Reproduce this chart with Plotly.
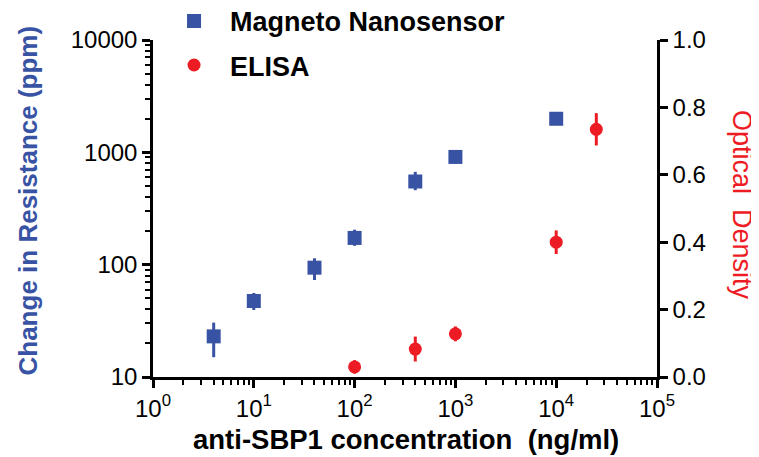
import plotly.graph_objects as go

# Magneto Nanosensor (left, log axis)
mag_x = [4, 10, 40, 100, 400, 1000, 10000]
mag_y = [23, 47.5, 94, 173, 550, 910, 1990]
mag_err_plus = [7.5, 8.5, 20, 32, 120, 0, 0]
mag_err_minus = [8, 8, 21, 26, 90, 0, 0]

# ELISA (right, linear axis)
eli_x = [100, 400, 1000, 10000, 25000]
eli_y = [0.03, 0.083, 0.128, 0.40, 0.735]
eli_err = [0.02, 0.037, 0.022, 0.035, 0.048]

x_tickvals = [1, 10, 100, 1000, 10000, 100000]
x_ticktext = ["10<sup>0</sup>", "10<sup>1</sup>", "10<sup>2</sup>", "10<sup>3</sup>", "10<sup>4</sup>", "10<sup>5</sup>"]
y_tickvals = [10, 100, 1000, 10000]
y_ticktext = ["10", "100", "1000", "10000"]
y2_tickvals = [0, 0.2, 0.4, 0.6, 0.8, 1.0]
y2_ticktext = ["0.0", "0.2", "0.4", "0.6", "0.8", "1.0"]

BLUE = "#3953a4"
RED = "#ed1c24"
FONT = "Liberation Sans, Arial, sans-serif"

fig = go.Figure()
fig.add_trace(go.Scatter(
    x=mag_x, y=mag_y, mode="markers", name="Magneto Nanosensor",
    legendgroup="a",
    marker=dict(symbol="square", size=14, color=BLUE),
    error_y=dict(type="data", array=mag_err_plus, arrayminus=mag_err_minus,
                 color=BLUE, thickness=3, width=0),
    yaxis="y",
))
fig.add_trace(go.Scatter(
    x=eli_x, y=eli_y, mode="markers", name="ELISA",
    legendgroup="b",
    marker=dict(symbol="circle", size=13, color=RED),
    error_y=dict(type="data", array=eli_err, color=RED, thickness=3, width=0),
    yaxis="y2",
))

axis_common = dict(showgrid=False, zeroline=False, showline=True, linecolor="black",
                   linewidth=2.5, ticks="outside", tickwidth=2.5, tickcolor="black",
                   ticklen=8, tickfont=dict(family=FONT, size=24, color="black"))

# page body has an 8px default margin, so the figure is 8px smaller and margins compensate
fig.update_layout(
    width=751, height=449,
    margin=dict(l=145, r=102, t=32, b=80, autoexpand=False),
    plot_bgcolor="white", paper_bgcolor="white",
    showlegend=True,
    legend=dict(x=0.01, y=1.128, xanchor="left", yanchor="top",
                font=dict(family=FONT, size=27, color="black", weight="bold"),
                itemwidth=62,
                tracegroupgap=6, bgcolor="rgba(0,0,0,0)"),
    xaxis=dict(type="log", range=[0, 5], tickvals=x_tickvals, ticktext=x_ticktext,
               minor=dict(ticks="outside", ticklen=5, tickwidth=2, tickcolor="black",
                          tickvals=[m * 10 ** d for d in range(5) for m in range(2, 10)]),
               **axis_common),
    yaxis=dict(type="log", range=[1, 4], tickvals=y_tickvals, ticktext=y_ticktext,
               minor=dict(ticks="outside", ticklen=5, tickwidth=2, tickcolor="black",
                          tickvals=[m * 10 ** d for d in range(1, 4) for m in range(2, 10)]),
               **axis_common),
    yaxis2=dict(overlaying="y", side="right", range=[0, 1], tickvals=y2_tickvals,
                ticktext=y2_ticktext, **axis_common),
)

fig.add_annotation(text="anti-SBP1 concentration\u00a0\u00a0(ng/ml)", xref="paper", yref="paper",
                   x=(406 - 153) / 504, y=(377 - 440) / 337, xanchor="center", yanchor="middle",
                   showarrow=False,
                   font=dict(family=FONT, size=27.5, color="black", weight="bold"))
fig.add_annotation(text="Change in Resistance (ppm)", xref="paper", yref="paper",
                   x=(27.5 - 153) / 504, y=(377 - 201) / 337, xanchor="center", yanchor="middle",
                   textangle=-90, showarrow=False,
                   font=dict(family=FONT, size=26, color=BLUE, weight="bold"))
fig.add_annotation(text="Optical\u00a0\u00a0Density", xref="paper", yref="paper",
                   x=(742 - 153) / 504, y=(377 - 205) / 337, xanchor="center", yanchor="middle",
                   textangle=90, showarrow=False,
                   font=dict(family=FONT, size=27, color=RED))

fig.write_html("out.html")
